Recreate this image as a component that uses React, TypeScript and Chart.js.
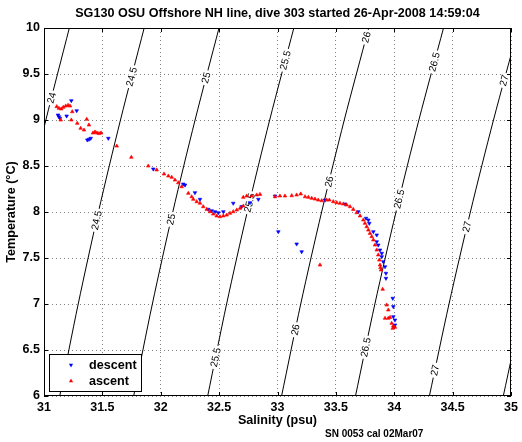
import React, { useEffect, useRef } from "react";
import { Chart, registerables } from "chart.js";

Chart.register(...registerables);

// ---------- axes ----------
const X_TICKS = [31, 31.5, 32, 32.5, 33, 33.5, 34, 34.5, 35];
const X_TICK_LABELS = ["31", "31.5", "32", "32.5", "33", "33.5", "34", "34.5", "35"];
const Y_TICKS = [6, 6.5, 7, 7.5, 8, 8.5, 9, 9.5, 10];
const Y_TICK_LABELS = ["6", "6.5", "7", "7.5", "8", "8.5", "9", "9.5", "10"];

const TITLE = "SG130 OSU Offshore NH line, dive 303 started 26-Apr-2008 14:59:04";
const X_LABEL = "Salinity (psu)";
const Y_LABEL = "Temperature (\u00B0C)";
const FOOTNOTE = "SN 0053 cal 02Mar07";

// ---------- density (sigma-theta) contours: salinity read at each temperature ----------
const CONTOUR_T = [6, 7, 8, 9, 10];
const SIGMA_LEVELS = ["24", "24.5", "25", "25.5", "26", "26.5", "27", "27.5"];
const S_24 = [30.502, 30.658, 30.829, 31.016, 31.217];
const S_24_5 = [31.135, 31.293, 31.466, 31.655, 31.858];
const S_25 = [31.768, 31.928, 32.103, 32.294, 32.499];
const S_25_5 = [32.402, 32.564, 32.741, 32.933, 33.14];
const S_26 = [33.035, 33.199, 33.378, 33.572, 33.781];
const S_26_5 = [33.668, 33.834, 34.015, 34.211, 34.422];
const S_27 = [34.301, 34.469, 34.652, 34.85, 35.063];
const S_27_5 = [34.934, 35.105, 35.29, 35.489, 35.704];

// temperatures where each contour carries its label
const LABEL_T_24 = [9.24];
const LABEL_T_24_5 = [9.47, 7.91];
const LABEL_T_25 = [9.46, 7.92];
const LABEL_T_25_5 = [9.65, 8.1, 6.42];
const LABEL_T_26 = [9.9, 8.33, 6.72];
const LABEL_T_26_5 = [9.63, 8.14, 6.53];
const LABEL_T_27 = [9.43, 7.84, 6.28];
const LABEL_T_27_5: number[] = [];

const CONTOUR_S = [S_24, S_24_5, S_25, S_25_5, S_26, S_26_5, S_27, S_27_5];
const CONTOUR_LABEL_T = [LABEL_T_24, LABEL_T_24_5, LABEL_T_25, LABEL_T_25_5, LABEL_T_26, LABEL_T_26_5, LABEL_T_27, LABEL_T_27_5];

// ---------- glider profile ----------
const DESCENT_S = [31.234, 31.28, 31.12, 31.128, 31.137, 31.194, 31.371, 31.385, 31.4, 31.551, 31.936, 32.193, 32.208, 32.293, 32.336, 32.407, 32.436, 32.465, 32.493, 32.536, 32.621, 32.693, 32.764, 32.836, 32.979, 33.007, 33.164, 33.207, 33.407, 33.578, 33.692, 33.758, 33.778, 33.786, 33.821, 33.85, 33.85, 33.863, 33.878, 33.893, 33.906, 33.921, 33.929, 33.893, 33.929, 33.987, 33.992, 33.992, 34.006, 34.006, 33.998];
const DESCENT_T = [9.21, 9.101, 9.054, 9.036, 9.018, 9.043, 8.783, 8.79, 8.801, 8.801, 8.467, 8.304, 8.293, 8.21, 8.138, 8.029, 8.014, 8.003, 7.992, 8.003, 8.095, 8.058, 8.101, 8.138, 8.174, 7.786, 7.652, 7.568, 8.13, 8.087, 8.003, 7.932, 7.913, 7.877, 7.786, 7.75, 7.677, 7.641, 7.587, 7.514, 7.46, 7.405, 7.334, 7.551, 7.279, 7.062, 6.971, 6.862, 6.826, 6.772, 6.75];

const ASCENT_S = [31.109, 31.128, 31.148, 31.165, 31.186, 31.206, 31.223, 31.242, 31.143, 31.234, 31.285, 31.366, 31.314, 31.343, 31.385, 31.42, 31.437, 31.454, 31.471, 31.488, 31.623, 31.748, 31.893, 31.965, 32.028, 32.065, 32.094, 32.122, 32.15, 32.179, 32.236, 32.265, 32.279, 32.308, 32.336, 32.364, 32.394, 32.422, 32.45, 32.479, 32.507, 32.536, 32.565, 32.593, 32.621, 32.651, 32.679, 32.707, 32.707, 32.736, 32.779, 32.822, 32.85, 32.979, 33.021, 33.064, 33.122, 33.164, 33.199, 33.236, 33.264, 33.293, 33.321, 33.349, 33.379, 33.421, 33.444, 33.478, 33.507, 33.535, 33.564, 33.593, 33.621, 33.649, 33.678, 33.707, 33.735, 33.749, 33.764, 33.778, 33.792, 33.807, 33.821, 33.835, 33.85, 33.863, 33.872, 33.878, 33.887, 33.882, 33.901, 33.364, 33.935, 33.949, 33.921, 33.949, 33.964, 33.978, 33.992, 34.006, 33.987];
const ASCENT_T = [9.145, 9.127, 9.12, 9.138, 9.152, 9.16, 9.152, 9.09, 9.0, 9.0, 8.964, 9.008, 8.91, 8.891, 8.946, 8.859, 8.87, 8.859, 8.853, 8.859, 8.717, 8.595, 8.5, 8.457, 8.413, 8.391, 8.377, 8.348, 8.318, 8.275, 8.203, 8.166, 8.138, 8.112, 8.095, 8.058, 8.029, 8.003, 7.978, 7.957, 7.949, 7.957, 7.967, 7.986, 8.003, 8.022, 8.04, 8.065, 8.16, 8.174, 8.174, 8.185, 8.192, 8.166, 8.174, 8.174, 8.177, 8.185, 8.196, 8.166, 8.16, 8.149, 8.141, 8.13, 8.123, 8.13, 8.13, 8.112, 8.101, 8.095, 8.087, 8.076, 8.058, 8.029, 7.992, 7.957, 7.913, 7.877, 7.84, 7.804, 7.768, 7.732, 7.696, 7.641, 7.587, 7.533, 7.478, 7.424, 7.37, 7.395, 7.16, 7.424, 6.989, 6.935, 6.845, 6.845, 6.855, 6.79, 6.761, 6.747, 6.736];

const LEGEND_LABELS = ["descent", "ascent"];

const FONT = '"Liberation Sans", Arial, Helvetica, sans-serif';

function drawTriangle(ctx: CanvasRenderingContext2D, x: number, y: number, r: number, down: boolean, color: string) {
  ctx.beginPath();
  const s = down ? -1 : 1;
  ctx.moveTo(x, y - s * r);
  ctx.lineTo(x + r * 0.866, y + s * r * 0.5);
  ctx.lineTo(x - r * 0.866, y + s * r * 0.5);
  ctx.closePath();
  ctx.fillStyle = color;
  ctx.fill();
}

const decorPlugin = {
  id: "decor",
  beforeDatasetDraw(chart: any, args: any) {
    if (args.index !== 0) return;
    // contour labels, drawn over contour lines but under the data markers
    const ctx: CanvasRenderingContext2D = chart.ctx;
    const xs = chart.scales.x;
    const ys = chart.scales.y;
    ctx.save();
    ctx.font = `10px ${FONT}`;
    ctx.textAlign = "center";
    ctx.textBaseline = "middle";
    CONTOUR_S.forEach((sArr, i) => {
      const txt = SIGMA_LEVELS[i];
      CONTOUR_LABEL_T[i].forEach((t) => {
        let k = 0;
        while (k < CONTOUR_T.length - 2 && t > CONTOUR_T[k + 1]) k++;
        const f = (t - CONTOUR_T[k]) / (CONTOUR_T[k + 1] - CONTOUR_T[k]);
        const s = sArr[k] + f * (sArr[k + 1] - sArr[k]);
        const px = xs.getPixelForValue(s);
        const py = ys.getPixelForValue(t);
        const dx = xs.getPixelForValue(sArr[k + 1]) - xs.getPixelForValue(sArr[k]);
        const dy = ys.getPixelForValue(CONTOUR_T[k + 1]) - ys.getPixelForValue(CONTOUR_T[k]);
        const ang = Math.atan2(dy, dx);
        ctx.save();
        ctx.translate(px, py);
        ctx.rotate(ang);
        const w = ctx.measureText(txt).width;
        ctx.fillStyle = "#ffffff";
        ctx.fillRect(-w / 2 - 2, -3.5, w + 4, 7);
        ctx.fillStyle = "#000000";
        ctx.fillText(txt, 0, 0.5);
        ctx.restore();
      });
    });
    ctx.restore();
  },
  afterDraw(chart: any) {
    const ctx: CanvasRenderingContext2D = chart.ctx;
    const { left, right, top, bottom } = chart.chartArea;
    const xs = chart.scales.x;
    const ys = chart.scales.y;
    ctx.save();
    // frame
    ctx.strokeStyle = "#000";
    ctx.lineWidth = 1;
    ctx.strokeRect(left + 0.5, top + 0.5, right - left - 1, bottom - top - 1);
    // inward ticks
    ctx.beginPath();
    const tl = 4;
    X_TICKS.forEach((v) => {
      const px = Math.round(xs.getPixelForValue(v)) + 0.5;
      ctx.moveTo(px, bottom);
      ctx.lineTo(px, bottom - tl);
      ctx.moveTo(px, top);
      ctx.lineTo(px, top + tl);
    });
    Y_TICKS.forEach((v) => {
      const py = Math.round(ys.getPixelForValue(v)) + 0.5;
      ctx.moveTo(left, py);
      ctx.lineTo(left + tl, py);
      ctx.moveTo(right, py);
      ctx.lineTo(right - tl, py);
    });
    ctx.stroke();

    // texts
    ctx.fillStyle = "#000";
    ctx.textAlign = "center";
    ctx.textBaseline = "middle";
    ctx.font = `bold 12.6px ${FONT}`;
    ctx.fillText(TITLE, (left + right) / 2, 14);
    ctx.fillText(X_LABEL, (left + right) / 2, 421);
    ctx.save();
    ctx.translate(12, (top + bottom) / 2);
    ctx.rotate(-Math.PI / 2);
    ctx.fillText(Y_LABEL, 0, 0);
    ctx.restore();
    ctx.font = `bold 10px ${FONT}`;
    ctx.textAlign = "left";
    ctx.fillText(FOOTNOTE, 325, 434);

    // legend
    const lx = 49, ly = 354, lw = 92, lh = 37;
    ctx.fillStyle = "#fff";
    ctx.fillRect(lx, ly, lw, lh);
    ctx.strokeStyle = "#000";
    ctx.strokeRect(lx + 0.5, ly + 0.5, lw, lh);
    drawTriangle(ctx, 71, 365, 2.4, true, "#0000ff");
    drawTriangle(ctx, 71, 381, 2.4, false, "#ff0000");
    ctx.fillStyle = "#000";
    ctx.font = `bold 12.6px ${FONT}`;
    ctx.textAlign = "left";
    ctx.fillText(LEGEND_LABELS[0], 89, 366);
    ctx.fillText(LEGEND_LABELS[1], 89, 382);
    ctx.restore();
  },
};

export default function App() {
  const ref = useRef<HTMLCanvasElement | null>(null);

  useEffect(() => {
    if (!ref.current) return;
    const contourSets = CONTOUR_S.map((sArr, i) => ({
      label: "sigma " + SIGMA_LEVELS[i],
      data: sArr.map((s, j) => ({ x: s, y: CONTOUR_T[j] })),
      showLine: true,
      borderColor: "#000000",
      borderWidth: 1,
      pointRadius: 0,
      tension: 0.3,
      order: 2,
    }));
    const chart = new Chart(ref.current, {
      type: "scatter",
      data: {
        datasets: [
          {
            label: LEGEND_LABELS[0],
            data: DESCENT_S.map((s, i) => ({ x: s, y: DESCENT_T[i] })),
            pointStyle: "triangle",
            rotation: 180,
            pointRadius: 2.1,
            pointBorderWidth: 0.6,
            backgroundColor: "#0000ff",
            borderColor: "#0000ff",
            order: 1,
          } as any,
          {
            label: LEGEND_LABELS[1],
            data: ASCENT_S.map((s, i) => ({ x: s, y: ASCENT_T[i] })),
            pointStyle: "triangle",
            pointRadius: 2.1,
            pointBorderWidth: 0.6,
            backgroundColor: "#ff0000",
            borderColor: "#ff0000",
            order: 0,
          } as any,
          ...contourSets,
        ],
      },
      options: {
        animation: false,
        responsive: false,
        maintainAspectRatio: false,
        devicePixelRatio: 1,
        events: [],
        layout: { padding: { top: 28, right: 11, left: 0, bottom: 0 } },
        plugins: {
          legend: { display: false },
          tooltip: { enabled: false },
          title: { display: false },
        },
        scales: {
          x: {
            type: "linear",
            min: 31,
            max: 35,
            afterBuildTicks: (s: any) => {
              s.ticks = X_TICKS.map((v) => ({ value: v }));
            },
            afterFit: (s: any) => {
              s.height = 46;
            },
            ticks: {
              autoSkip: false,
              maxRotation: 0,
              padding: 4,
              color: "#000",
              font: { family: FONT, size: 12.5, weight: "bold" },
              callback: (v: any) => {
                const i = X_TICKS.indexOf(Number(v));
                return i >= 0 ? X_TICK_LABELS[i] : "";
              },
            },
            grid: { color: "rgba(0,0,0,0.5)", lineWidth: 1, drawTicks: false },
            border: { display: false, dash: [1, 3] },
          },
          y: {
            type: "linear",
            min: 6,
            max: 10,
            afterBuildTicks: (s: any) => {
              s.ticks = Y_TICKS.map((v) => ({ value: v }));
            },
            afterFit: (s: any) => {
              s.width = 44;
            },
            ticks: {
              autoSkip: false,
              padding: 4,
              color: "#000",
              font: { family: FONT, size: 12.5, weight: "bold" },
              callback: (v: any) => {
                const i = Y_TICKS.indexOf(Number(v));
                return i >= 0 ? Y_TICK_LABELS[i] : "";
              },
            },
            grid: { color: "rgba(0,0,0,0.5)", lineWidth: 1, drawTicks: false },
            border: { display: false, dash: [1, 3] },
          },
        },
      } as any,
      plugins: [decorPlugin],
    });
    return () => chart.destroy();
  }, []);

  return (
    <div style={{ position: "absolute", left: 0, top: 0, width: 522, height: 442, background: "#fff" }}>
      <canvas ref={ref} width={522} height={442} style={{ display: "block", width: 522, height: 442 }} />
    </div>
  );
}
